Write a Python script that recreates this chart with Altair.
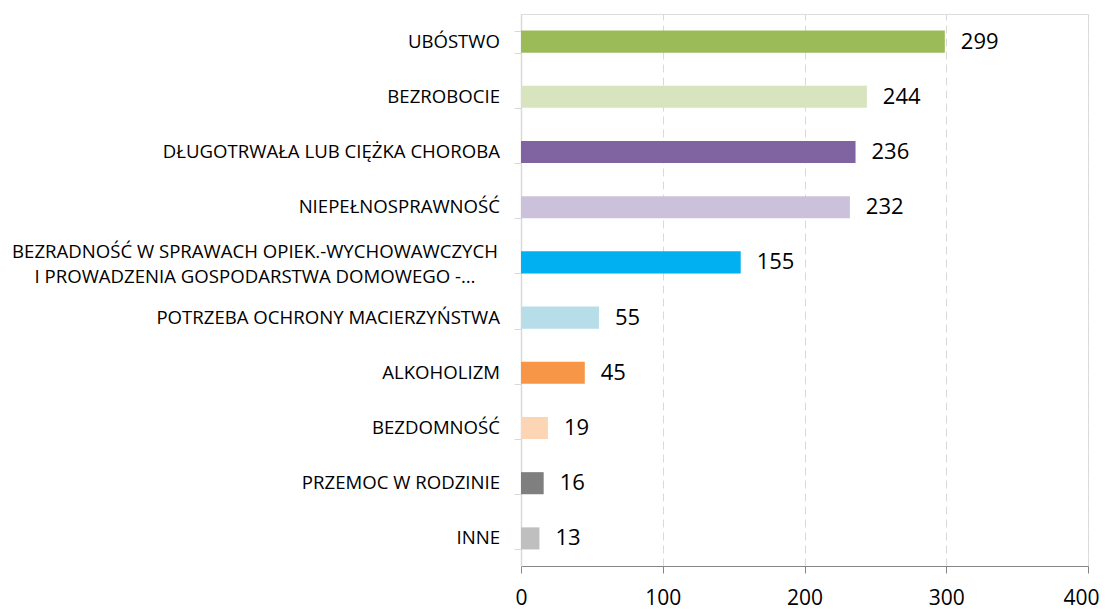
import altair as alt
import pandas as pd

categories = [
    "UBÓSTWO",
    "BEZROBOCIE",
    "DŁUGOTRWAŁA LUB CIĘŻKA CHOROBA",
    "NIEPEŁNOSPRAWNOŚĆ",
    "BEZRADNOŚĆ W SPRAWACH OPIEK.-WYCHOWAWCZYCH\nI PROWADZENIA GOSPODARSTWA DOMOWEGO -…",
    "POTRZEBA OCHRONY MACIERZYŃSTWA",
    "ALKOHOLIZM",
    "BEZDOMNOŚĆ",
    "PRZEMOC W RODZINIE",
    "INNE",
]
values = [299, 244, 236, 232, 155, 55, 45, 19, 16, 13]
colors = ["#9BBB59", "#D7E4BD", "#8064A2", "#CCC1DA", "#00B0F0",
          "#B7DEE8", "#F79646", "#FCD5B5", "#7F7F7F", "#BFBFBF"]
x_ticks = [0, 100, 200, 300, 400]

df = pd.DataFrame({"cat": categories, "val": values,
                   "multi": ["\n" in c for c in categories]})

FONT = "Open Sans"
CAT_SIZE = 18.6

y_enc = alt.Y("cat:N", sort=categories,
              scale=alt.Scale(paddingInner=0.6, paddingOuter=0.3),
              axis=alt.Axis(title=None, labels=False, domainColor="#d9d9d9",
                            tickColor="#d9d9d9", tickSize=7, tickBand="extent",
                            grid=False, domainWidth=1.5))

base = alt.Chart(df)

bars = base.mark_bar().encode(
    x=alt.X("val:Q", scale=alt.Scale(domain=[0, 400]),
            axis=alt.Axis(title=None, values=x_ticks, grid=True, gridColor="#d9d9d9",
                          gridDash=[8, 5], gridWidth=1, domainColor="#868686",
                          tickColor="#868686", tickSize=7, labelFont=FONT,
                          labelFontSize=21, labelColor="#000000", labelPadding=14,
                          labelFlush=False,
                          labelOffset={"condition": {"test": "datum.value == 400", "value": -7},
                                       "value": 0})),
    y=y_enc,
    color=alt.Color("cat:N", scale=alt.Scale(domain=categories, range=colors), legend=None),
)

values_text = base.mark_text(align="left", baseline="middle", dx=16, font=FONT,
                             fontSize=22, color="#000000").encode(
    x="val:Q", y=alt.Y("cat:N", sort=categories), text="val:Q")

single_labels = base.transform_filter("!datum.multi").mark_text(
    align="right", baseline="middle", font=FONT, fontSize=CAT_SIZE, color="#000000").encode(
    x=alt.value(-21), y=alt.Y("cat:N", sort=categories), text="cat:N")

multi_labels = base.transform_filter("datum.multi").mark_text(
    align="center", baseline="middle", font=FONT, fontSize=CAT_SIZE, color="#000000",
    lineBreak="\n", lineHeight=25, dy=-10).encode(
    x=alt.value(-266), y=alt.Y("cat:N", sort=categories), text="cat:N")

chart = alt.layer(bars, values_text, single_labels, multi_labels).properties(
    width=567, height=552,
    autosize=alt.AutoSizeParams(type="none"),
    padding={"left": 513, "top": 6, "right": 12, "bottom": 43},
).configure_view(stroke=None).configure(background="#ffffff")

chart.save("out.html", embed_options={"renderer": "svg", "actions": False})
